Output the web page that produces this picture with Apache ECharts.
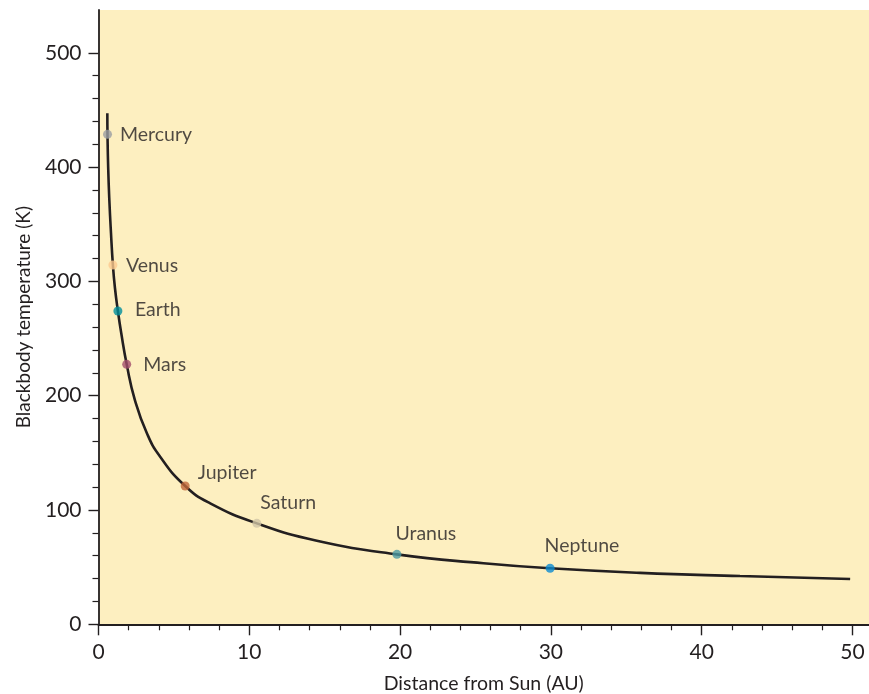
<!DOCTYPE html>
<html>
<head>
<meta charset="utf-8">
<script src="https://cdn.jsdelivr.net/npm/echarts@6/dist/echarts.min.js"></script>
<style>
html,body{margin:0;padding:0;background:#fff;}
#chart{width:869px;height:694px;}
</style>
</head>
<body>
<div id="chart"></div>
<script>
// ---- data ----
const curveDist = [0.586, 0.597, 0.641, 0.719, 0.828, 0.955, 1.091, 1.286, 1.507, 1.87, 2.414, 3.21, 4.09, 5.75, 7.41, 10.5, 14.48, 19.79, 25.53, 29.95, 35.92, 42.55, 49.85];
const curveTemp = [447.0, 428.6, 400.0, 371.2, 342.3, 314.3, 294.2, 274.1, 254.8, 227.4, 196.2, 167.1, 146.6, 121.0, 105.8, 88.3, 73.1, 61.2, 53.4, 49.0, 45.0, 42.2, 39.6];

const planetNames = ["Mercury", "Venus", "Earth", "Mars", "Jupiter", "Saturn", "Uranus", "Neptune"];
const planetDist = [0.597, 0.955, 1.286, 1.87, 5.75, 10.5, 19.79, 29.95];
const planetTemp = [428.6, 314.3, 274.1, 227.4, 121.0, 88.3, 61.2, 49.0];
const planetColors = ["#9a9da2", "#fcc98e", "#008f9c", "#a24d6c", "#c1683b", "#d0c4a5", "#4c9aa3", "#0b8bd1"];

const xMajorTicks = [0, 10, 20, 30, 40, 50];
const xMinorTicks = [2, 4, 6, 8, 12, 14, 16, 18, 22, 24, 26, 28, 32, 34, 36, 38, 42, 44, 46, 48];
const yMajorTicks = [0, 100, 200, 300, 400, 500];
const yMinorTicks = [20, 40, 60, 80, 120, 140, 160, 180, 220, 240, 260, 280, 320, 340, 360, 380, 420, 440, 460, 480];

const xTitle = "Distance from Sun (AU)";
const yTitle = "Blackbody temperature (K)";

// ---- styling / layout ----
const ink = "#231f20";
const labelFont = "Lato";
// label offsets (dx, dy from dot centre)
const labelOffsets = [[12.5, 0.5], [13, 0.5], [17, -1], [16.5, 0.5], [12.5, -13.5], [3.5, -21], [-1.5, -20.5], [-5.5, -22.5]];

const X_MAX = 51.1, Y_MAX = 537.4;
const dotSize = 9;

const chart = echarts.init(document.getElementById('chart'), null, {renderer: 'canvas'});

const planetData = planetNames.map((n, i) => ({
  name: n,
  value: [planetDist[i], planetTemp[i]],
  itemStyle: {color: planetColors[i]},
  label: {
    show: true,
    formatter: n,
    position: [dotSize / 2 + labelOffsets[i][0], dotSize / 2 + labelOffsets[i][1]],
    align: 'left',
    verticalAlign: 'middle',
    color: ink,
    fontFamily: labelFont,
    fontSize: 19.5
  }
}));

const option = {
  animation: false,
  backgroundColor: '#ffffff',
  grid: {
    left: 98.5, right: 0, top: 10, bottom: 69.7,
    outerBoundsMode: 'none',
    containLabel: false,
    show: true, backgroundColor: '#fdefc0', borderWidth: 0
  },
  xAxis: [{
    type: 'value', min: 0, max: X_MAX,
    position: 'bottom',
    axisLine: {show: true, lineStyle: {color: ink, width: 1.8}},
    axisTick: {show: true, length: 11, lineStyle: {color: ink, width: 1.4}, customValues: xMajorTicks},
    axisLabel: {show: true, customValues: xMajorTicks, color: ink, fontFamily: labelFont, fontSize: 21, margin: 17},
    splitLine: {show: false},
    name: xTitle, nameLocation: 'middle', nameGap: 49,
    nameTextStyle: {color: ink, fontFamily: labelFont, fontSize: 19.5}
  }, {
    type: 'value', min: 0, max: X_MAX,
    position: 'bottom',
    axisLine: {show: false},
    axisTick: {show: true, length: 6, lineStyle: {color: ink, width: 1.2}, customValues: xMinorTicks},
    axisLabel: {show: false},
    splitLine: {show: false}
  }],
  yAxis: [{
    type: 'value', min: 0, max: Y_MAX,
    position: 'left',
    axisLine: {show: true, lineStyle: {color: ink, width: 1.8}},
    axisTick: {show: true, length: 10, lineStyle: {color: ink, width: 1.4}, customValues: yMajorTicks},
    axisLabel: {show: true, customValues: yMajorTicks, color: ink, fontFamily: labelFont, fontSize: 21, margin: 17},
    splitLine: {show: false},
    name: yTitle, nameLocation: 'middle', nameGap: 65.5, nameRotate: 90,
    nameTextStyle: {color: ink, fontFamily: labelFont, fontSize: 19}
  }, {
    type: 'value', min: 0, max: Y_MAX,
    position: 'left',
    axisLine: {show: false},
    axisTick: {show: true, length: 6, lineStyle: {color: ink, width: 1.2}, customValues: yMinorTicks},
    axisLabel: {show: false},
    splitLine: {show: false}
  }],
  series: [{
    type: 'line',
    xAxisIndex: 0, yAxisIndex: 0,
    data: curveDist.map((d, i) => [d, curveTemp[i]]),
    smooth: 0.5,
    showSymbol: false,
    symbol: 'none',
    lineStyle: {color: ink, width: 2.6},
    z: 2
  }, {
    type: 'scatter',
    xAxisIndex: 0, yAxisIndex: 0,
    symbolSize: dotSize,
    data: planetData,
    z: 3
  }]
};
chart.setOption(option);
</script>
</body>
</html>
